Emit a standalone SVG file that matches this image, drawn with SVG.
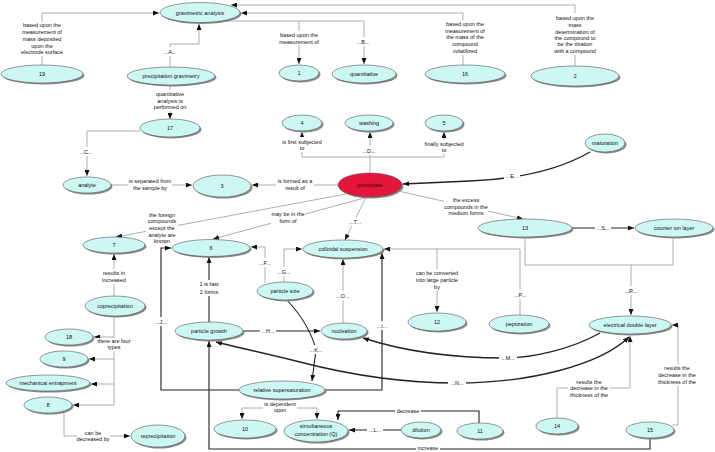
<svg xmlns="http://www.w3.org/2000/svg" width="715" height="452" viewBox="0 0 715 452">
<style>
text{font-family:"Liberation Sans",Arial,sans-serif;font-size:5.5px;fill:#111;text-anchor:middle}
.n ellipse.b{fill:#cdf7f2;stroke:#555;stroke-width:0.6}
.n ellipse.s{fill:#8a8a8a}
.g{fill:none;stroke:#9a9a9a;stroke-width:0.8}
.k{fill:none;stroke:#222;stroke-width:1.1}
.c{fill:none;stroke:#222;stroke-width:1.4}
.a{marker-end:url(#ar)}
.lb{fill:#fff}
</style>
<defs>
<marker id="ar" markerUnits="userSpaceOnUse" markerWidth="6" markerHeight="5" refX="6" refY="2.5" orient="auto-start-reverse"><path d="M0,0 L6,2.5 L0,5 z" fill="#111"/></marker>
</defs>
<rect width="715" height="452" fill="#fff"/>
<g id="connectors">
<path class="g a" d="M42,65 V13 H159"/>
<path class="g a" d="M170,67 V44 H199 V24"/>
<path class="g" d="M225,21 H364"/>
<path class="g a" d="M299,21 V64"/>
<path class="g a" d="M364,21 V64"/>
<path class="g a" d="M463,65 V13 H241"/>
<path class="g a" d="M575,66 V5 H231"/>
<path class="g a" d="M170,85 V119"/>
<path class="g a" d="M140,131 H87 V176"/>
<path class="g a" d="M111,185 H192"/>
<path class="g a" d="M338,185 H252"/>
<path class="g" d="M370,173 V157 M302,157 H444"/>
<path class="g a" d="M302,157 V132"/>
<path class="g a" d="M370,157 V132"/>
<path class="g a" d="M444,157 V132"/>
<path class="c a" d="M590,152 Q545,178 470,181 L403,184"/>
<path class="g a" d="M346,194 L116,237"/>
<path class="g a" d="M368,197 L213,239"/>
<path class="g a" d="M366,197 L345,240"/>
<path class="g a" d="M398,191 L523,219"/>
<path class="k a" d="M572,228 H634"/>
<path class="g" d="M525,237 V265 H673 V237"/>
<path class="g a" d="M631,265 V315"/>
<path class="g a" d="M520,315 V249 H384"/>
<path class="g a" d="M437,249 V312"/>
<path class="g a" d="M265,283 V247 H251"/>
<path class="g a" d="M284,282 V249 H302"/>
<path class="k a" d="M209,322 V257"/>
<path class="k a" d="M243,331 H320"/>
<path class="g a" d="M343,323 V259"/>
<path class="k a" d="M287,300 Q310,325 316,350 L312,381"/>
<path class="k a" d="M239,390 H161 V248 H171"/>
<path class="k a" d="M325,390 H382 V253"/>
<path class="c a" d="M600,333 C570,350 530,358 505,358 C445,358 400,350 363,338"/>
<path class="c a" d="M216,342 C235,347 260,352 300,362 C350,375 400,383 457,383 C530,383 600,365 629,337" style="marker-start:url(#ar)"/>
<path class="g" d="M282,399 V408 M242,408 H317"/>
<path class="g a" d="M242,408 V419"/>
<path class="g a" d="M317,408 V419"/>
<path class="k a" d="M401,430 H349"/>
<path class="k a" d="M479,423 V411 H338 V420"/>
<path class="k a" d="M650,438 V449 H209 V341"/>
<path class="g a" d="M557,418 V388 H630 V336"/>
<path class="g a" d="M672,425 H678 V325 H672"/>
<path class="g a" d="M114,296 V254"/>
<path class="g" d="M114,316 V405"/>
<path class="g a" d="M114,337 H94"/>
<path class="g a" d="M114,359 H89"/>
<path class="g a" d="M114,384 H91"/>
<path class="g a" d="M114,405 H73"/>
<path class="g a" d="M64,412 V436 H130"/>
<g id="labels">
<rect class="lb" x="19" y="22" width="46" height="34"/>
<text x="42" y="27">based upon the</text><text x="42" y="34">measurement of</text><text x="42" y="41">mass deposited</text><text x="42" y="48">upon the</text><text x="42" y="54">electrode surface</text>
<rect class="lb" x="162" y="47" width="16" height="9"/><text x="170" y="54">...A...</text>
<rect class="lb" x="280" y="31" width="38" height="14"/><text x="299" y="37">based upon the</text><text x="299" y="44">measurement of</text>
<rect class="lb" x="355" y="37" width="16" height="9"/><text x="363" y="44">...B...</text>
<rect class="lb" x="444" y="20" width="42" height="35"/>
<text x="465" y="26">based upon the</text><text x="465" y="33">measurement of</text><text x="465" y="39">the mass of the</text><text x="465" y="46">compound</text><text x="465" y="53">volatilized</text>
<rect class="lb" x="553" y="13" width="44" height="42"/>
<text x="575" y="20">based upon the</text><text x="575" y="27">mass</text><text x="575" y="34">determination of</text><text x="575" y="40">the compound to</text><text x="575" y="46">be the titration</text><text x="575" y="53">with a compound</text>
<rect class="lb" x="155" y="90" width="30" height="21"/>
<text x="170" y="96">quantitative</text><text x="170" y="103">analysis is</text><text x="170" y="109">performed on</text>
<rect class="lb" x="78" y="147" width="16" height="9"/><text x="86" y="154">...C...</text>
<rect class="lb" x="128" y="177" width="44" height="15"/><text x="150" y="183">is separated from</text><text x="150" y="190">the sample by</text>
<rect class="lb" x="276" y="177" width="38" height="15"/><text x="295" y="183">is formed as a</text><text x="295" y="190">result of</text>
<rect class="lb" x="279" y="137" width="46" height="15"/><text x="302" y="144">is first subjected</text><text x="302" y="150">to</text>
<rect class="lb" x="361" y="146" width="16" height="9"/><text x="369" y="153">...D...</text>
<rect class="lb" x="423" y="140" width="42" height="14"/><text x="444" y="146">finally subjected</text><text x="444" y="152">to</text>
<rect class="lb" x="504" y="171" width="16" height="9"/><text x="512" y="178">...E...</text>
<rect class="lb" x="146" y="211" width="32" height="33"/>
<text x="162" y="217">the foreign</text><text x="162" y="223">compounds</text><text x="162" y="230">except the</text><text x="162" y="237">analyte are</text><text x="162" y="243">known</text>
<rect class="lb" x="271" y="210" width="34" height="15"/><text x="288" y="216">may be in the</text><text x="288" y="223">form of</text>
<rect class="lb" x="347" y="217" width="16" height="9"/><text x="355" y="224">...T...</text>
<rect class="lb" x="444" y="196" width="44" height="21"/>
<text x="466" y="202">the excess</text><text x="466" y="209">compounds in the</text><text x="466" y="215">medium forms</text>
<rect class="lb" x="595" y="223" width="16" height="9"/><text x="603" y="230">...S...</text>
<rect class="lb" x="623" y="286" width="16" height="9"/><text x="631" y="293">...R...</text>
<rect class="lb" x="512" y="290" width="16" height="9"/><text x="520" y="297">...P...</text>
<rect class="lb" x="414" y="269" width="46" height="21"/>
<text x="437" y="275">can be converted</text><text x="437" y="282">into large particle</text><text x="437" y="289">by</text>
<rect class="lb" x="257" y="258" width="16" height="9"/><text x="265" y="265">...F...</text>
<rect class="lb" x="276" y="267" width="16" height="9"/><text x="284" y="274">...G...</text>
<rect class="lb" x="197" y="280" width="24" height="16"/><text x="209" y="286">1 is fast</text><text x="209" y="294">2  forms</text>
<rect class="lb" x="260" y="326" width="16" height="9"/><text x="268" y="333">...H...</text>
<rect class="lb" x="335" y="291" width="16" height="9"/><text x="343" y="298">...O...</text>
<rect class="lb" x="308" y="345" width="16" height="9"/><text x="316" y="352">...K...</text>
<rect class="lb" x="153" y="317" width="16" height="9"/><text x="161" y="324">...J...</text>
<rect class="lb" x="374" y="321" width="16" height="9"/><text x="382" y="328">...I...</text>
<rect class="lb" x="499" y="353" width="18" height="9"/><text x="508" y="360">...M...</text>
<rect class="lb" x="448" y="378" width="18" height="9"/><text x="457" y="385">...N...</text>
<rect class="lb" x="263" y="400" width="34" height="14"/><text x="280" y="406">is dependent</text><text x="280" y="412">upon</text>
<rect class="lb" x="367" y="425" width="16" height="9"/><text x="375" y="432">...L...</text>
<rect class="lb" x="395" y="407" width="26" height="8"/><text x="408" y="413">decrease</text>
<rect class="lb" x="416" y="444" width="24" height="8"/><text x="428" y="450">increase</text>
<rect class="lb" x="568" y="378" width="42" height="21"/>
<text x="589" y="384">results the</text><text x="589" y="390">decrease in the</text><text x="589" y="397">thickness of the</text>
<rect class="lb" x="656" y="364" width="42" height="22"/>
<text x="677" y="370">results the</text><text x="677" y="377">decrease in the</text><text x="677" y="384">thickness of the</text>
<rect class="lb" x="100" y="269" width="28" height="15"/><text x="114" y="275">results in</text><text x="114" y="282">increased</text>
<rect class="lb" x="95" y="338" width="38" height="13"/><text x="114" y="343">there are four</text><text x="114" y="349">types</text>
<rect class="lb" x="77" y="429" width="33" height="14"/><text x="93" y="435">can be</text><text x="93" y="441">decreased by</text>
</g>
</g>
<g id="n-grav" class="n"><ellipse class="s" cx="201.5" cy="14" rx="40" ry="10"/><ellipse class="b" cx="200" cy="12.5" rx="40" ry="10"/><text x="200" y="14.5">gravimetric analysis</text></g>
<g id="n-19" class="n"><ellipse class="s" cx="43.5" cy="75.5" rx="41" ry="9"/><ellipse class="b" cx="42" cy="74" rx="41" ry="9"/><text x="42" y="76">19</text></g>
<g id="n-pg" class="n"><ellipse class="s" cx="172.5" cy="77.5" rx="44" ry="9"/><ellipse class="b" cx="171" cy="76" rx="44" ry="9"/><text x="171" y="78">precipitation gravimetry</text></g>
<g id="n-1" class="n"><ellipse class="s" cx="300.5" cy="74.5" rx="20" ry="8"/><ellipse class="b" cx="299" cy="73" rx="20" ry="8"/><text x="299" y="75">1</text></g>
<g id="n-quant" class="n"><ellipse class="s" cx="365.5" cy="75.5" rx="32" ry="9"/><ellipse class="b" cx="364" cy="74" rx="32" ry="9"/><text x="364" y="76">quantitative</text></g>
<g id="n-16" class="n"><ellipse class="s" cx="466.5" cy="75.5" rx="40" ry="9"/><ellipse class="b" cx="465" cy="74" rx="40" ry="9"/><text x="465" y="76">16</text></g>
<g id="n-2" class="n"><ellipse class="s" cx="576.5" cy="77.5" rx="44" ry="10"/><ellipse class="b" cx="575" cy="76" rx="44" ry="10"/><text x="575" y="78">2</text></g>
<g id="n-17" class="n"><ellipse class="s" cx="171.5" cy="129.5" rx="30" ry="9"/><ellipse class="b" cx="170" cy="128" rx="30" ry="9"/><text x="170" y="130">17</text></g>
<g id="n-4" class="n"><ellipse class="s" cx="303.5" cy="124.5" rx="20" ry="8"/><ellipse class="b" cx="302" cy="123" rx="20" ry="8"/><text x="302" y="125">4</text></g>
<g id="n-wash" class="n"><ellipse class="s" cx="370.5" cy="124.5" rx="24" ry="8"/><ellipse class="b" cx="369" cy="123" rx="24" ry="8"/><text x="369" y="125">washing</text></g>
<g id="n-5" class="n"><ellipse class="s" cx="445.5" cy="124.5" rx="19" ry="8"/><ellipse class="b" cx="444" cy="123" rx="19" ry="8"/><text x="444" y="125">5</text></g>
<g id="n-mat" class="n"><ellipse class="s" cx="606.5" cy="144.5" rx="20" ry="9"/><ellipse class="b" cx="605" cy="143" rx="20" ry="9"/><text x="605" y="145">maturation</text></g>
<g id="n-analyte" class="n"><ellipse class="s" cx="88.5" cy="186.5" rx="24" ry="8"/><ellipse class="b" cx="87" cy="185" rx="24" ry="8"/><text x="87" y="187">analyte</text></g>
<g id="n-3" class="n"><ellipse class="s" cx="223.5" cy="187.5" rx="29" ry="11"/><ellipse class="b" cx="222" cy="186" rx="29" ry="11"/><text x="222" y="188">3</text></g>
<g id="n-precip" class="n"><ellipse class="s" cx="371.5" cy="186.5" rx="32" ry="12"/><ellipse cx="370" cy="185" rx="32" ry="12" fill="#e4163c" stroke="#555" stroke-width="0.6"/><text x="370" y="187" style="fill:#400">precipitate</text></g>
<g id="n-13" class="n"><ellipse class="s" cx="526.5" cy="229.5" rx="47" ry="9"/><ellipse class="b" cx="525" cy="228" rx="47" ry="9"/><text x="525" y="230">13</text></g>
<g id="n-cil" class="n"><ellipse class="s" cx="675.5" cy="229.5" rx="39" ry="9"/><ellipse class="b" cx="674" cy="228" rx="39" ry="9"/><text x="674" y="230">counter ion layer</text></g>
<g id="n-7" class="n"><ellipse class="s" cx="115.5" cy="246.5" rx="31" ry="8"/><ellipse class="b" cx="114" cy="245" rx="31" ry="8"/><text x="114" y="247">7</text></g>
<g id="n-6" class="n"><ellipse class="s" cx="212.5" cy="249.5" rx="39" ry="8.5"/><ellipse class="b" cx="211" cy="248" rx="39" ry="8.5"/><text x="211" y="250">6</text></g>
<g id="n-coll" class="n"><ellipse class="s" cx="344.5" cy="250.5" rx="40" ry="9"/><ellipse class="b" cx="343" cy="249" rx="40" ry="9"/><text x="343" y="251">colloidal suspension</text></g>
<g id="n-psize" class="n"><ellipse class="s" cx="286.5" cy="292.5" rx="28" ry="9"/><ellipse class="b" cx="285" cy="291" rx="28" ry="9"/><text x="285" y="293">particle size</text></g>
<g id="n-copr" class="n"><ellipse class="s" cx="116.5" cy="307.5" rx="30" ry="10"/><ellipse class="b" cx="115" cy="306" rx="30" ry="10"/><text x="115" y="308">coprecipitation</text></g>
<g id="n-12" class="n"><ellipse class="s" cx="438.5" cy="323.5" rx="29" ry="9"/><ellipse class="b" cx="437" cy="322" rx="29" ry="9"/><text x="437" y="324">12</text></g>
<g id="n-pept" class="n"><ellipse class="s" cx="520.5" cy="325.5" rx="30" ry="9"/><ellipse class="b" cx="519" cy="324" rx="30" ry="9"/><text x="519" y="326">peptization</text></g>
<g id="n-edl" class="n"><ellipse class="s" cx="631.5" cy="326.5" rx="41" ry="9"/><ellipse class="b" cx="630" cy="325" rx="41" ry="9"/><text x="630" y="327">electrical double layer</text></g>
<g id="n-pgrow" class="n"><ellipse class="s" cx="210.5" cy="332.5" rx="34" ry="9"/><ellipse class="b" cx="209" cy="331" rx="34" ry="9"/><text x="209" y="333">particle growth</text></g>
<g id="n-nucl" class="n"><ellipse class="s" cx="345.5" cy="332.5" rx="23" ry="8"/><ellipse class="b" cx="344" cy="331" rx="23" ry="8"/><text x="344" y="333">nucleation</text></g>
<g id="n-18" class="n"><ellipse class="s" cx="70.5" cy="338.5" rx="24" ry="8"/><ellipse class="b" cx="69" cy="337" rx="24" ry="8"/><text x="69" y="339">18</text></g>
<g id="n-9" class="n"><ellipse class="s" cx="65.5" cy="360.5" rx="24" ry="8"/><ellipse class="b" cx="64" cy="359" rx="24" ry="8"/><text x="64" y="361">9</text></g>
<g id="n-mech" class="n"><ellipse class="s" cx="49.5" cy="384.5" rx="42" ry="8"/><ellipse class="b" cx="48" cy="383" rx="42" ry="8"/><text x="48" y="385">mechanical entrapment</text></g>
<g id="n-relsup" class="n"><ellipse class="s" cx="283.5" cy="391.5" rx="43" ry="9"/><ellipse class="b" cx="282" cy="390" rx="43" ry="9"/><text x="282" y="392">relative supersaturation</text></g>
<g id="n-8" class="n"><ellipse class="s" cx="49.5" cy="406.5" rx="24" ry="8"/><ellipse class="b" cx="48" cy="405" rx="24" ry="8"/><text x="48" y="407">8</text></g>
<g id="n-14" class="n"><ellipse class="s" cx="558.5" cy="427.5" rx="21" ry="8"/><ellipse class="b" cx="557" cy="426" rx="21" ry="8"/><text x="557" y="428">14</text></g>
<g id="n-10" class="n"><ellipse class="s" cx="246.5" cy="430.5" rx="31" ry="9"/><ellipse class="b" cx="245" cy="429" rx="31" ry="9"/><text x="245" y="431">10</text></g>
<g id="n-simc" class="n"><ellipse class="s" cx="317.5" cy="432.5" rx="32" ry="11"/><ellipse class="b" cx="316" cy="431" rx="32" ry="11"/><text x="316" y="428">simultaneous</text><text x="316" y="436">concentration (Q)</text></g>
<g id="n-dil" class="n"><ellipse class="s" cx="422.5" cy="431.5" rx="20" ry="8"/><ellipse class="b" cx="421" cy="430" rx="20" ry="8"/><text x="421" y="432">dilution</text></g>
<g id="n-11" class="n"><ellipse class="s" cx="481.5" cy="432.5" rx="23" ry="8"/><ellipse class="b" cx="480" cy="431" rx="23" ry="8"/><text x="480" y="433">11</text></g>
<g id="n-15" class="n"><ellipse class="s" cx="651.5" cy="431.5" rx="24" ry="8"/><ellipse class="b" cx="650" cy="430" rx="24" ry="8"/><text x="650" y="432">15</text></g>
<g id="n-repr" class="n"><ellipse class="s" cx="159.5" cy="437.5" rx="27" ry="11"/><ellipse class="b" cx="158" cy="436" rx="27" ry="11"/><text x="158" y="438">reprecipitation</text></g>
</svg>
